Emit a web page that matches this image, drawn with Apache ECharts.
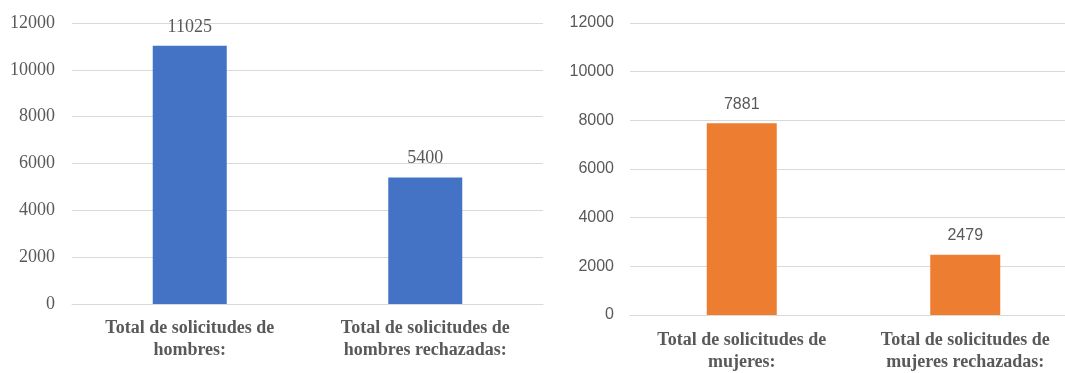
<!DOCTYPE html>
<html>
<head>
<meta charset="utf-8">
<script src="https://cdn.jsdelivr.net/npm/echarts@6/dist/echarts.min.js"></script>
<style>
  html, body { margin: 0; padding: 0; background: #fff; overflow: hidden; }
  #chart { width: 1080px; height: 373px; }
</style>
</head>
<body>
<div id="chart"></div>
<script>
// Solicitudes por sexo: totales y rechazadas
const catsHombres = ['Total de solicitudes de\nhombres:', 'Total de solicitudes de\nhombres rechazadas:'];
const valsHombres = [11025, 5400];
const catsMujeres = ['Total de solicitudes de\nmujeres:', 'Total de solicitudes de\nmujeres rechazadas:'];
const valsMujeres = [7881, 2479];
const yMin = 0, yMax = 12000, yStep = 2000;

const gray = '#595959';
const gridColor = '#D9D9D9';
const serif = '"Liberation Serif", "DejaVu Serif", serif';
const sans = '"Liberation Sans", Arial, sans-serif';

function yAxis(gridIndex, font, size, margin) {
  return {
    type: 'value', gridIndex, min: yMin, max: yMax, interval: yStep,
    axisLine: { show: false }, axisTick: { show: false },
    splitLine: { lineStyle: { color: gridColor, width: 1 } },
    axisLabel: { color: gray, fontFamily: font, fontSize: size, margin,
                 formatter: v => String(v) }
  };
}
function xAxis(gridIndex, cats, margin) {
  return {
    type: 'category', gridIndex, data: cats,
    axisLine: { lineStyle: { color: gridColor } }, axisTick: { show: false },
    axisLabel: { color: gray, fontFamily: serif, fontWeight: 'bold', fontSize: 18,
                 lineHeight: 22, margin, interval: 0 }
  };
}

const chart = echarts.init(document.getElementById('chart'), null, { renderer: 'canvas' });
chart.setOption({
  animation: false,
  grid: [
    { left: 72, width: 471, top: 23, bottom: 69, containLabel: false },
    { left: 630, width: 447, top: 23, bottom: 56, containLabel: false }
  ],
  xAxis: [xAxis(0, catsHombres, 13), xAxis(1, catsMujeres, 14)],
  yAxis: [yAxis(0, serif, 18, 17), yAxis(1, sans, 16, 16)],
  series: [
    {
      type: 'bar', xAxisIndex: 0, yAxisIndex: 0, data: valsHombres, barWidth: 74,
      itemStyle: { color: '#4472C4' },
      label: { show: true, position: 'top', distance: 10, color: gray, fontFamily: serif, fontSize: 18 }
    },
    {
      type: 'bar', xAxisIndex: 1, yAxisIndex: 1, data: valsMujeres, barWidth: 70,
      itemStyle: { color: '#ED7D31' },
      label: { show: true, position: 'top', distance: 11, color: gray, fontFamily: sans, fontSize: 16 }
    }
  ]
});
</script>
</body>
</html>
